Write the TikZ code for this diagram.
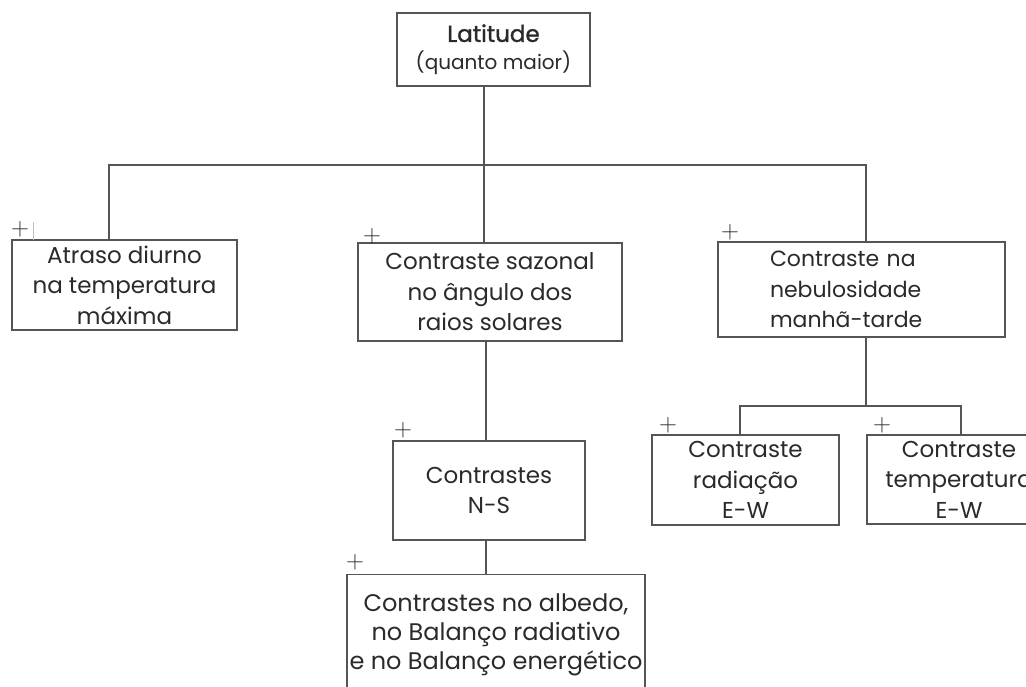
\documentclass[tikz,border=0pt]{standalone}
\usepackage{fontspec}
\usepackage{tikz}
\usepackage{xcolor}
\setmainfont{Poppins}
\newfontfamily\latfont[FakeBold=1.3]{Poppins}

\definecolor{linegray}{HTML}{555555}
\definecolor{textgray}{HTML}{2A2A2A}

\begin{document}
\begin{tikzpicture}[x=1pt,y=-1pt,
    box/.style={draw=linegray,line width=1.3pt,text=textgray,align=center,inner sep=0pt,
      font=\fontsize{23}{30.5}\selectfont},
    link/.style={draw=linegray,line width=1.3pt},
    plus/.style={text=textgray,inner sep=0pt,font=\fontsize{24}{24}\selectfont}]
      \useasboundingbox (0,0) rectangle (1026,687);
      \clip (0,0) rectangle (1026,687);
      \fill [white] (0,0) rectangle (1026,687);
      % boxes
      \node [box,minimum width=193pt,minimum height=73pt] (lat) at (493.5,49.5)
        {{\latfont\fontsize{23}{28}\selectfont Latitude}\\[-3pt]{\fontsize{20}{26}\selectfont(quanto maior)}};
      \node [box,minimum width=225pt,minimum height=90pt] (atraso) at (124.5,285)
        {Atraso diurno\\na temperatura\\máxima};
      \node [box,minimum width=264pt,minimum height=98pt] (sazonal) at (490,292)
        {Contraste sazonal\\no ângulo dos\\raios solares};
      \node [box,minimum width=287pt,minimum height=95pt,align=left,text width=235pt,
        font=\fontsize{22}{30.5}\selectfont] (nebul) at (861.5,289.5)
        {\hspace*{26pt}Contraste na\\\hspace*{26pt}nebulosidade\\\hspace*{26pt}manhã-tarde};
      \node [box,minimum width=192pt,minimum height=99pt] (ns) at (489,490.5)
        {Contrastes\\N-S};
      \node [box,minimum width=187pt,minimum height=90pt] (radia) at (745.5,480)
        {Contraste\\radiação\\E-W};
      \node [box,minimum width=184pt,minimum height=89pt] (temp) at (959,479.5)
        {Contraste\\temperatura\\E-W};
      \node [box,minimum width=298pt,minimum height=132pt,anchor=north,
        font=\fontsize{24}{29}\selectfont] (albedo) at (496,574)
        {\\[-22pt]Contrastes no albedo,\\no Balanço radiativo\\e no Balanço energético};
      % connectors
      \coordinate (split) at (484,165);
      \coordinate (splitr) at (866,406);
      \draw [link] ([xshift=-9.5pt]lat.south) -- (split);
      \draw [link] (split) -| ([xshift=-15.5pt]atraso.north);
      \draw [link] (split) -- ([xshift=-6pt]sazonal.north);
      \draw [link] (split) -| ([xshift=4.5pt]nebul.north);
      \draw [link] ([xshift=-4pt]sazonal.south) -- ([xshift=-3pt]ns.north);
      \draw [link] ([xshift=-3pt]ns.south) -- ([xshift=-10pt]albedo.north);
      \draw [link] ([xshift=4.5pt]nebul.south) -- (splitr);
      \draw [link] (splitr) -| ([xshift=-5.5pt]radia.north);
      \draw [link] (splitr) -| ([xshift=2pt]temp.north);
      % signs
      \node [plus] (p1) at (20,229) {$+$};
      \draw [gray!50,line width=0.8pt] (33,222) -- (33,240);
      \node [plus] (p2) at (372,236) {$+$};
      \node [plus] (p3) at (730,232) {$+$};
      \node [plus] (p4) at (403,430) {$+$};
      \node [plus] (p5) at (668,425) {$+$};
      \node [plus] (p6) at (882,425) {$+$};
      \node [plus] (p7) at (355,562) {$+$};
\end{tikzpicture}
\end{document}
